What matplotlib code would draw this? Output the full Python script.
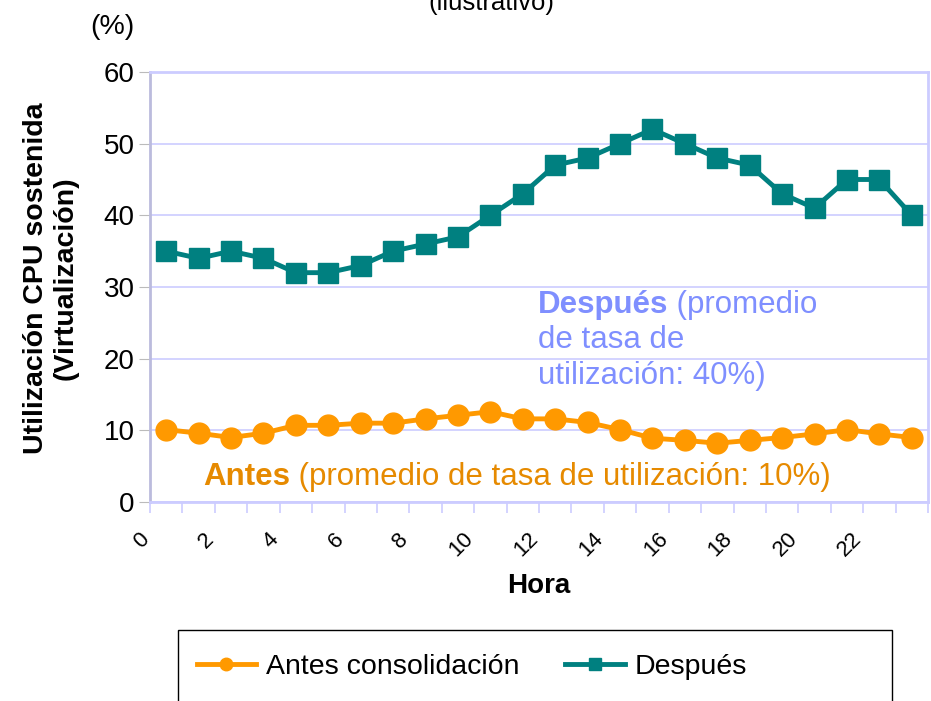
import matplotlib.pyplot as plt
import numpy as np
from matplotlib.patches import Rectangle

plt.rcParams['font.family'] = ['Liberation Sans', 'DejaVu Sans']

horas = np.arange(24)
antes = [10.1, 9.6, 9.0, 9.6, 10.7, 10.7, 11.0, 11.0, 11.6, 12.1, 12.6, 11.6,
         11.6, 11.1, 10.1, 8.9, 8.6, 8.2, 8.6, 9.0, 9.5, 10.1, 9.5, 9.0]
despues = [35, 34, 35, 34, 32, 32, 33, 35, 36, 37, 40, 43,
           47, 48, 50, 52, 50, 48, 47, 43, 41, 45, 45, 40]
etiquetas_x = [str(h) for h in range(0, 24, 2)]

naranja = '#FF9900'
verde = '#008080'
lavanda = '#CCCCFF'
azul_txt = '#7F8FFF'
naranja_txt = '#E68A00'

fig = plt.figure(figsize=(9.31, 7.01), dpi=100)
ax = fig.add_axes([150 / 931, 1 - 502 / 701, 778 / 931, 430 / 701])

ax.plot(horas + 0.5, antes, color=naranja, lw=3.5, marker='o', ms=15,
        label='Antes consolidación', zorder=3)
ax.plot(horas + 0.5, despues, color=verde, lw=3.5, marker='s', ms=14,
        label='Después', zorder=3)

ax.set_xlim(0, 24)
ax.set_ylim(0, 60)
ax.set_yticks(range(0, 61, 10))
ax.grid(axis='y', color=lavanda, lw=1.2)
ax.set_axisbelow(True)
for s in ax.spines.values():
    s.set_color(lavanda)
    s.set_linewidth(2)
ax.spines['left'].set_color('#BBBBDD')

# ticks en cada limite de categoria, etiquetas cada 2 horas
ax.set_xticks(range(25))
ax.set_xticklabels([])
ax.tick_params(axis='x', length=8, color=lavanda, width=1.2)
ax.tick_params(axis='y', length=8, color='#BBBBBB', labelsize=20, pad=3)
for i, lab in enumerate(etiquetas_x):
    ax.text(2 * i + 0.1, -3.7, lab, rotation=45, ha='right', va='top',
            fontsize=16)

ax.set_xlabel('Hora', fontsize=20, fontweight='bold')
ax.xaxis.set_label_coords(0.5, (502 - 586) / 430)
ax.xaxis.label.set_va('center')
ax.set_ylabel('Utilización CPU sostenida\n(Virtualización)', fontsize=20.5,
              fontweight='bold', linespacing=1.15)
ax.yaxis.set_label_coords((51 - 150) / 778, 0.52)
ax.yaxis.label.set_va('center')

# anotaciones: palabra en negrita seguida del texto normal
fs_nota = 22.5
t1 = ax.text(1.63, 3.5, 'Antes', color=naranja_txt, fontsize=fs_nota,
             fontweight='bold', va='center')
ax.annotate(' (promedio de tasa de utilización: 10%)', xy=(1, 0.5),
            xycoords=t1, color=naranja_txt, fontsize=fs_nota, va='center')

t2 = ax.text(11.97, 27.5, 'Después', color=azul_txt, fontsize=fs_nota,
             fontweight='bold', va='center')
ax.annotate(' (promedio', xy=(1, 0.5), xycoords=t2, color=azul_txt,
            fontsize=fs_nota, va='center')
ax.text(11.97, 22.6, 'de tasa de', color=azul_txt, fontsize=fs_nota,
        va='center')
ax.text(11.97, 17.6, 'utilización: 40%)', color=azul_txt, fontsize=fs_nota,
        va='center')

fig.text(112 / 931, 1 - 27 / 701, '(%)', fontsize=20.5, ha='center',
         va='center')
fig.text(491 / 931, 1 - 15 / 701, '(ilustrativo)', fontsize=18.5,
         ha='center', va='bottom')

fig.patches.append(Rectangle((178 / 931, -0.05), 714 / 931, 0.05 + 71 / 701,
                             transform=fig.transFigure, fill=False,
                             edgecolor='black', lw=1))
fig.legend(loc='center', bbox_to_anchor=(472 / 931, 1 - 667 / 701), ncol=2,
           frameon=False, fontsize=20.5, markerscale=0.6, handlelength=2.1,
           columnspacing=1.6, handletextpad=0.35)

fig.savefig('out.png', dpi=100)
